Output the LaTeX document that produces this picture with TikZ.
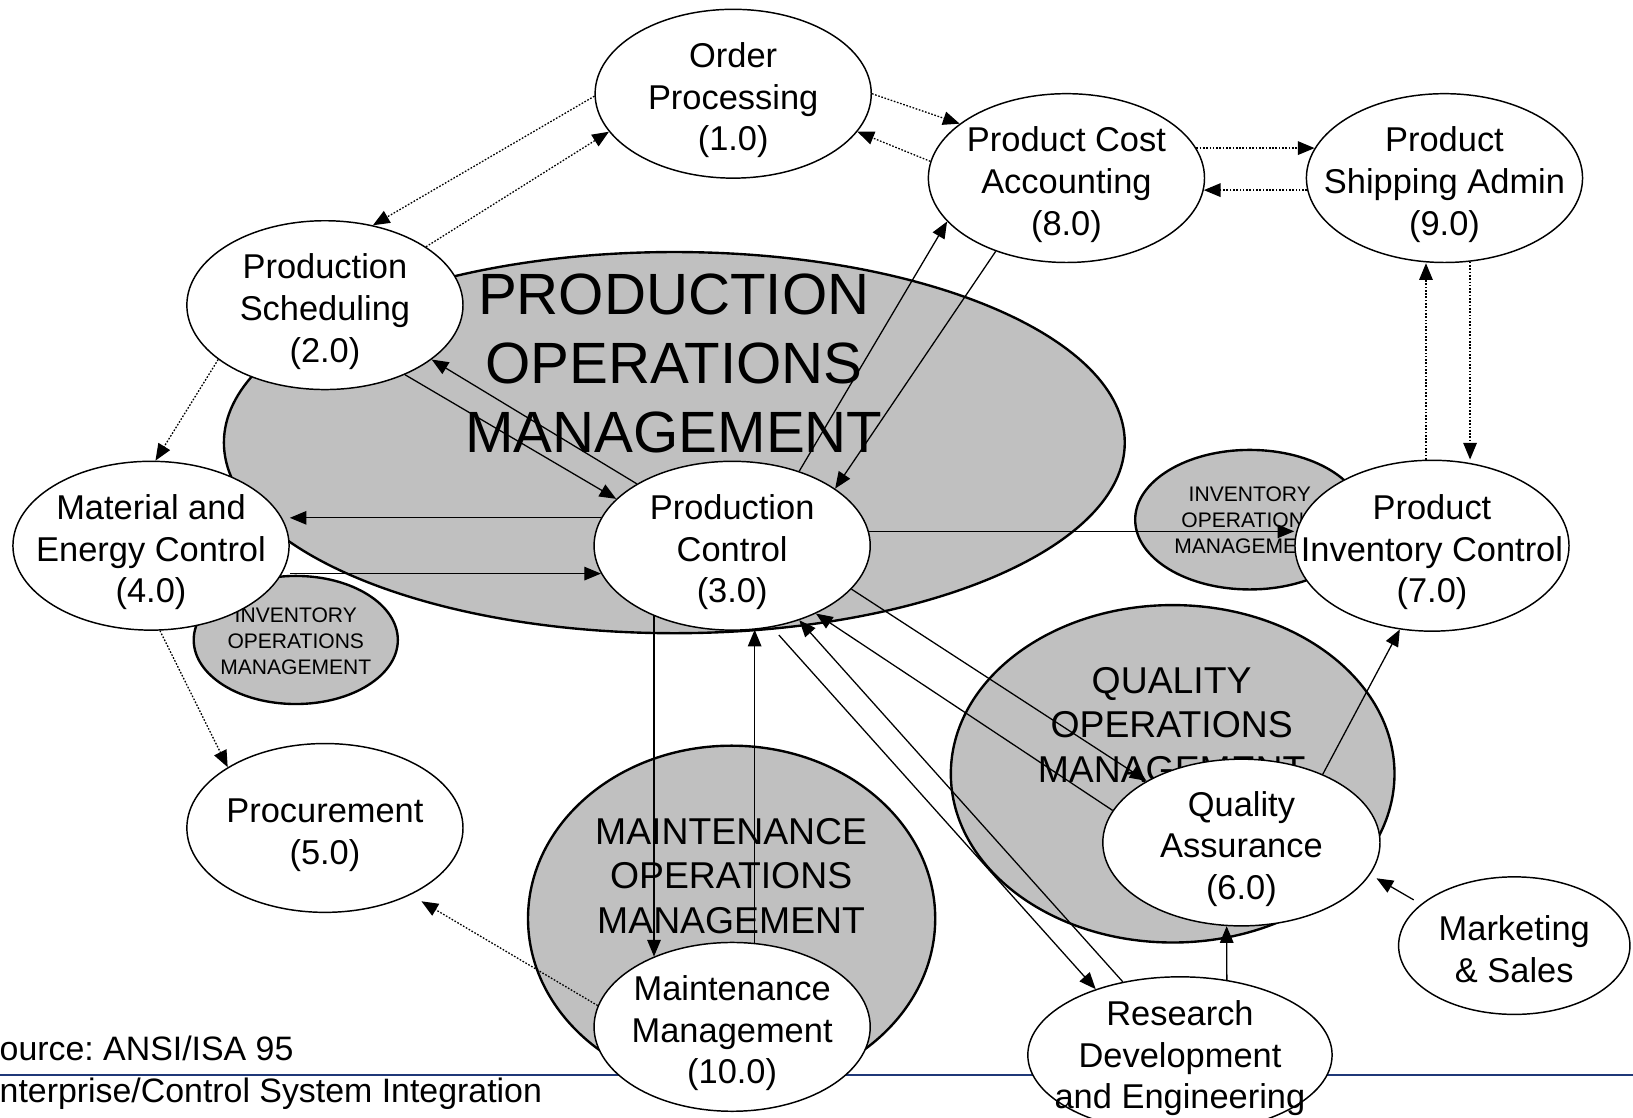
\documentclass[tikz,border=0pt]{standalone}
\usepackage{fontspec}
\setmainfont{Liberation Sans}
\usepackage{tikz}
\usetikzlibrary{shapes.geometric,arrows.meta}

\definecolor{opsgray}{RGB}{192,192,192}
\definecolor{rulecol}{RGB}{31,56,120}

\newcommand{\fnfont}{\fontsize{9.4pt}{11.4pt}\selectfont}
\newcommand{\footfont}{\fontsize{9.25pt}{11.2pt}\selectfont}
\newcommand{\pomfont}{\fontsize{15.9pt}{18.8pt}\selectfont}
\newcommand{\opsfont}{\fontsize{10.2pt}{12.2pt}\selectfont}
\newcommand{\invfont}{\fontsize{5.75pt}{7.1pt}\selectfont}
\frenchspacing

\begin{document}
\begin{tikzpicture}[x=0.01cm, y=-0.01cm,
		func/.style={ellipse, draw=black, line width=0.4pt, fill=white, inner sep=-0.6cm, align=center, font=\fnfont, text height=33.1pt, minimum width=2.65cm, minimum height=1.62cm},
		opsarea/.style={draw=black, line width=0.65pt, fill=opsgray},
		opstext/.style={align=center, inner sep=0pt},
		flow/.style={-{Triangle[length=0.16cm, width=0.13cm]}, line width=0.35pt},
		dotflow/.style={flow, dash pattern=on 0.45pt off 0.45pt}]
	\useasboundingbox (0,0) rectangle (1568,1073);
	
	\draw[rulecol, line width=0.5pt] (0,1032)--(1568,1032);
	
	\draw[opsarea] (647.5,425) ellipse [x radius=432.5, y radius=183];
	\draw[opsarea] (284,614.5) ellipse [x radius=98, y radius=61.5];
	\draw[opsarea] (1200,499) ellipse [x radius=110, y radius=67];
	\draw[opsarea] (1126,743) ellipse [x radius=213, y radius=162];
	\draw[opsarea] (702.5,882) ellipse [x radius=195.5, y radius=166];
	
	\node[opstext, font=\pomfont] (pomtxt) at (647,349) {PRODUCTION\\OPERATIONS\\MANAGEMENT};
	\node[opstext, font=\opsfont] (momtxt) at (702,841) {MAINTENANCE\\OPERATIONS\\MANAGEMENT};
	\node[opstext, font=\opsfont] (qomtxt) at (1125,696) {QUALITY\\OPERATIONS\\MANAGEMENT};
	\node[opstext, font=\invfont] (iomleft) at (284,616) {INVENTORY\\OPERATIONS\\MANAGEMENT};
	\node[opstext, font=\invfont] (iomright) at (1200,500) {INVENTORY\\OPERATIONS\\MANAGEMENT};
	
	\node[func] (op) at (704,90) {Order\\Processing\\(1.0)};
	\node[func] (pca) at (1024,171) {Product Cost\\Accounting\\(8.0)};
	\node[func] (psa) at (1387,171) {Product\\Shipping Admin\\(9.0)};
	\node[func] (ps) at (312,293) {Production\\Scheduling\\(2.0)};
	\node[func] (me) at (145,524) {Material and\\Energy Control\\(4.0)};
	\node[func] (pc) at (703,524) {Production\\Control\\(3.0)};
	\node[func, minimum width=2.63cm, minimum height=1.64cm] (pic) at (1375,524) {Product\\Inventory Control\\(7.0)};
	\node[func, text height=21.7pt] (proc) at (312,795) {Procurement\\(5.0)};
	\node[func, minimum width=2.66cm, minimum height=1.6cm] (qa) at (1192,809) {Quality\\Assurance\\(6.0)};
	\node[func, text height=20pt, minimum width=2.22cm, minimum height=1.32cm] (ms) at (1454,908) {Marketing\\\& Sales};
	\node[func] (mm) at (703,986) {Maintenance\\Management\\(10.0)};
	\node[func, text height=31.4pt, minimum width=2.92cm, minimum height=1.5cm] (rde) at (1133,1013) {Research\\Development\\and Engineering};
	
	\node[anchor=west, inner sep=0pt, font=\footfont] (src) at (-1,1007) {ource: ANSI/ISA 95};
	\node[anchor=west, inner sep=0pt, font=\footfont] (ecsi) at (-1,1050) {nterprise/Control System Integration};
	
	\draw[dotflow] (op.181)--(ps.59);
	\draw[dotflow] (ps.30)--(op.197);
	\draw[dotflow] (op.0)--(pca.153);
	\draw[dotflow] (pca.173)--(op.343);
	\draw[dotflow] (pca.13)--(psa.167);
	\draw[dotflow] (psa.185)--(pca.355);
	\draw[dotflow] (pic.94)--(pic.94 |- psa.south);
	\draw[dotflow] (psa.287)--(psa.287 |- pic.north);
	\draw[dotflow] (ps.207)--(me.87);
	\draw[dotflow] (me.276)--(proc.148);
	\draw[dotflow, shorten >=0.12cm] (mm.171)--(proc.322);
	
	\draw[flow] (ps.319)--(pc.158);
	\draw[flow] (pc.147)--(ps.333);
	\draw[flow] (pc.168)--(pc.168 -| me.east);
	\draw[flow] (me.east |- pc.192)--(pc.192);
	\draw[flow] (pc.48)--(pca.200);
	\draw[flow] (pca.226)--(pc.29);
	\draw[flow] (pc.6)--(pc.6 -| pic.west);
	\draw[flow] (pc.222)--(mm.138);
	\draw[flow] (mm.75)--(pc.285);
	\draw[flow] (pc.340)--(qa.147);
	\draw[flow] (qa.166)--(pc.321);
	\draw[flow] (rde.128)--(pc.312);
	\draw[flow, shorten <=0.1cm] (pc.296)--(rde.142);
	\draw[flow] (qa.40)--(pic.249);
	\draw[flow] (rde.58)--(qa.260);
	\draw[flow, shorten <=0.08cm, shorten >=0.07cm] (ms.156)--(qa.346);
\end{tikzpicture}
\end{document}
